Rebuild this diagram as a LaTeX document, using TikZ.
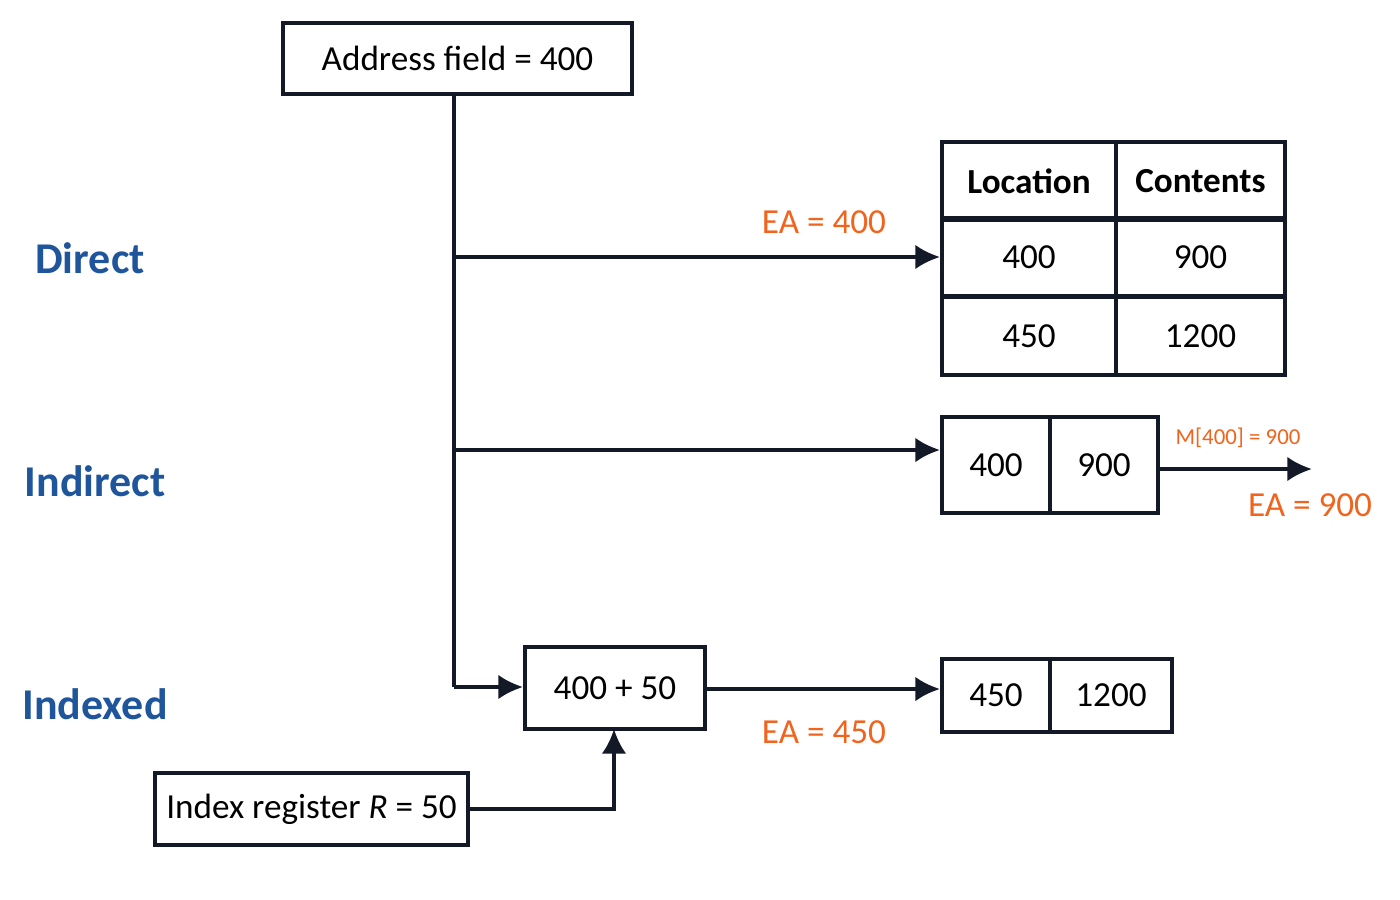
\documentclass[tikz,border=0pt]{standalone}
\usepackage{fontspec}
\setmainfont{Carlito}
\usetikzlibrary{arrows.meta,positioning,calc}
\definecolor{modeblue}{RGB}{30,85,155}
\definecolor{eaorange}{RGB}{240,100,30}
\definecolor{linedark}{RGB}{20,25,40}
\tikzset{
  box/.style={draw=linedark,line width=1.1pt,minimum height=#1,inner sep=0pt},
  box/.default=0.72cm,
  conn/.style={draw=linedark,line width=1.1pt,-{Latex[length=7pt,width=7pt]}},
  mode/.style={text=modeblue,font=\fontsize{12.5}{14}\selectfont\bfseries},
  ea/.style={text=eaorange,font=\fontsize{10}{12}\selectfont},
  val/.style={font=\fontsize{10}{12}\selectfont},
}
\begin{document}
\begin{tikzpicture}[x=0.01cm,y=-0.01cm]
\useasboundingbox (0,0) rectangle (1400,900);
% address field
\node[box=0.71cm,minimum width=3.49cm,val] (addr) at (457.5,58.5) {Address field = 400};
\coordinate (top) at (454,94);
\coordinate (bend) at (454,687);
\coordinate (jd) at (454,257);
\coordinate (ji) at (454,450);
% modes
\node[mode] (direct) at (90,258) {Direct};
\node[mode] (indirect) at (95,481) {Indirect};
\node[mode] (indexed) at (95,704) {Indexed};
% memory table
\foreach \r/\a/\b [count=\i] in {142/Location/Contents,218/400/900,297/450/1200}
{\node[box=0.78cm,minimum width=1.74cm,val] (l\i) at (1029,\r+39) {\ifnum\i=1\textbf{\a}\else\a\fi};
 \node[box=0.78cm,minimum width=1.69cm,val] (c\i) at (1200.5,\r+39) {\ifnum\i=1\textbf{\b}\else\b\fi};}
% indirect word
\node[box=0.96cm,minimum width=1.08cm,val] (iw1) at (996,465) {400};
\node[box=0.96cm,minimum width=1.08cm,val] (iw2) at (1104,465) {900};
\coordinate (iend) at (1312,469);
% indexed
\node[box=0.82cm,minimum width=1.8cm,val] (sum) at (615,688) {400 + 50};
\node[box=0.73cm,minimum width=1.08cm,val] (xw1) at (996,695.5) {450};
\node[box=0.73cm,minimum width=1.22cm,val] (xw2) at (1111,695.5) {1200};
\node[box=0.72cm,minimum width=3.13cm,val] (reg) at (311.5,809) {Index register \textit{R} = 50};
% connectors
\draw[line width=1.1pt,draw=linedark] (addr.south -| top) -- (bend);
\draw[conn] (jd) -- (jd -| l2.west);
\draw[conn] (ji) -- (ji -| iw1.west);
\draw[conn] (bend) -- (bend -| sum.west);
\draw[conn] (iw2.east |- iend) -- (iend);
\draw[conn] (sum.east |- 0,689) -- (xw1.west |- 0,689);
\draw[conn] (reg.east) -| (614,729);
% labels
\node[ea] (ea1) at (824,222) {EA = 400};
\node[ea,font=\fontsize{6.5}{8}\selectfont] (mi) at (1238,438) {M[400] = 900};
\node[ea] (ea2) at (1310,505) {EA = 900};
\node[ea] (ea3) at (824,732) {EA = 450};
\end{tikzpicture}
\end{document}
